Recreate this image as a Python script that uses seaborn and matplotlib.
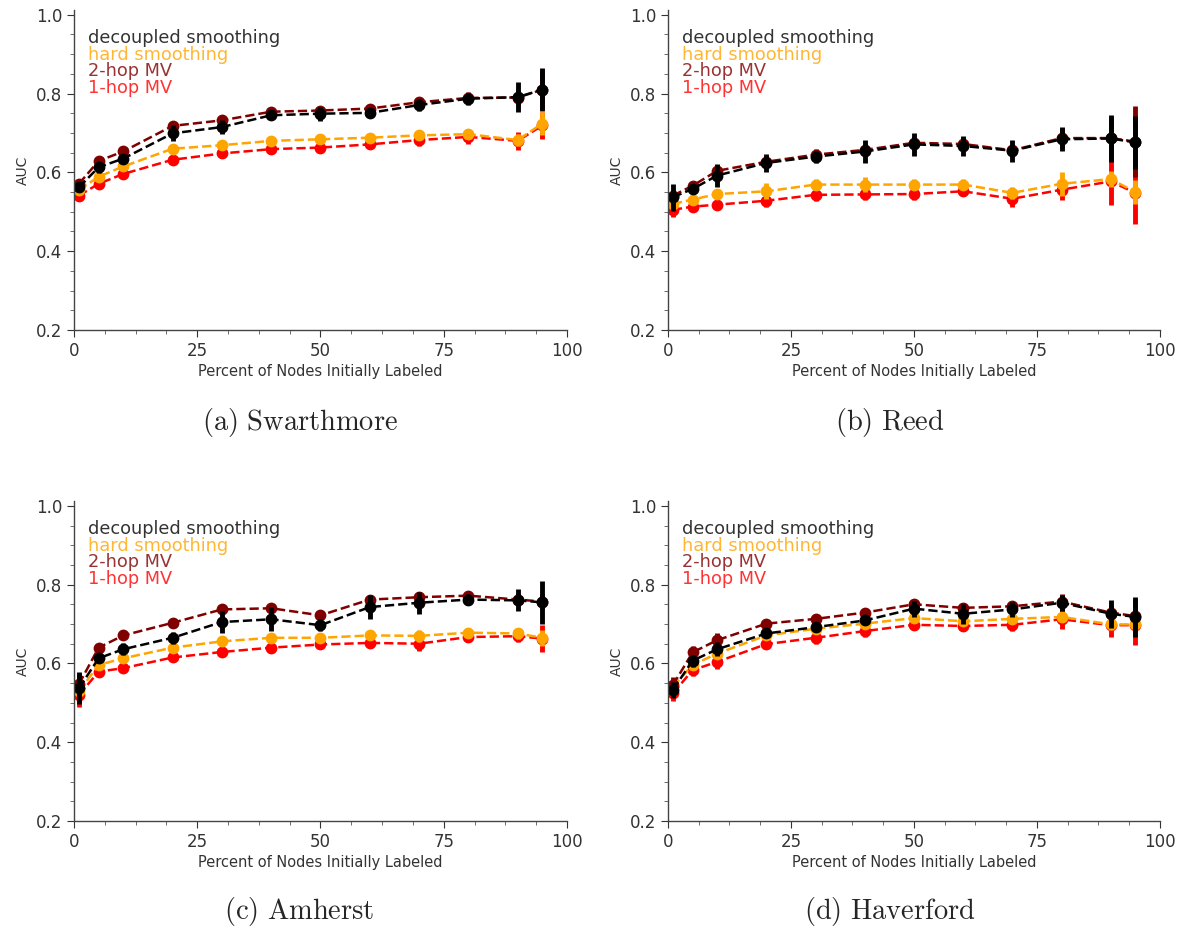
import numpy as np
import pandas as pd
import matplotlib
matplotlib.use("Agg")
import matplotlib.pyplot as plt
import seaborn as sns
from matplotlib.ticker import AutoMinorLocator

# percent of nodes initially labeled
pct = [1, 5, 10, 20, 30, 40, 50, 60, 70, 80, 90, 95]

methods = ["decoupled smoothing", "hard smoothing", "2-hop MV", "1-hop MV"]
colors = {"decoupled smoothing": "black", "hard smoothing": "orange",
          "2-hop MV": "maroon", "1-hop MV": "red"}

# Swarthmore
swa_dec = [0.562, 0.613, 0.635, 0.699, 0.715, 0.745, 0.749, 0.751, 0.771, 0.787, 0.791, 0.810]
swa_hard = [0.555, 0.589, 0.615, 0.660, 0.669, 0.680, 0.684, 0.688, 0.694, 0.697, 0.682, 0.724]
swa_2hop = [0.571, 0.629, 0.653, 0.718, 0.732, 0.754, 0.757, 0.762, 0.778, 0.789, 0.790, 0.810]
swa_1hop = [0.541, 0.571, 0.596, 0.632, 0.648, 0.659, 0.663, 0.671, 0.682, 0.690, 0.680, 0.719]
swa_dec_err = [0.012, 0.015, 0.012, 0.020, 0.018, 0.010, 0.018, 0.010, 0.015, 0.015, 0.038, 0.055]
swa_hard_err = [0.010, 0.012, 0.010, 0.010, 0.008, 0.008, 0.008, 0.010, 0.012, 0.012, 0.015, 0.030]
swa_2hop_err = [0.012, 0.012, 0.010, 0.010, 0.010, 0.008, 0.010, 0.010, 0.012, 0.015, 0.020, 0.050]
swa_1hop_err = [0.012, 0.012, 0.010, 0.010, 0.010, 0.008, 0.008, 0.010, 0.015, 0.018, 0.022, 0.034]

# Reed
ree_dec = [0.537, 0.558, 0.592, 0.624, 0.640, 0.653, 0.671, 0.667, 0.655, 0.684, 0.686, 0.676]
ree_hard = [0.520, 0.531, 0.545, 0.552, 0.569, 0.569, 0.569, 0.569, 0.548, 0.571, 0.583, 0.550]
ree_2hop = [0.541, 0.566, 0.604, 0.627, 0.645, 0.657, 0.675, 0.672, 0.656, 0.687, 0.687, 0.678]
ree_1hop = [0.505, 0.513, 0.518, 0.528, 0.543, 0.544, 0.545, 0.552, 0.533, 0.556, 0.577, 0.548]
ree_dec_err = [0.034, 0.012, 0.028, 0.022, 0.015, 0.030, 0.030, 0.025, 0.028, 0.030, 0.060, 0.068]
ree_hard_err = [0.012, 0.010, 0.010, 0.020, 0.015, 0.020, 0.015, 0.015, 0.015, 0.030, 0.020, 0.030]
ree_2hop_err = [0.015, 0.012, 0.012, 0.015, 0.015, 0.015, 0.015, 0.015, 0.015, 0.025, 0.050, 0.090]
ree_1hop_err = [0.018, 0.012, 0.010, 0.015, 0.015, 0.015, 0.015, 0.012, 0.020, 0.025, 0.060, 0.078]

# Amherst
amh_dec = [0.537, 0.613, 0.636, 0.665, 0.705, 0.712, 0.697, 0.743, 0.754, 0.762, 0.760, 0.755]
amh_hard = [0.529, 0.596, 0.613, 0.640, 0.656, 0.665, 0.665, 0.671, 0.670, 0.678, 0.676, 0.665]
amh_2hop = [0.547, 0.640, 0.671, 0.703, 0.737, 0.740, 0.722, 0.762, 0.768, 0.772, 0.762, 0.757]
amh_1hop = [0.520, 0.579, 0.588, 0.615, 0.629, 0.640, 0.648, 0.652, 0.650, 0.667, 0.669, 0.663]
amh_dec_err = [0.040, 0.012, 0.015, 0.015, 0.028, 0.030, 0.015, 0.030, 0.028, 0.015, 0.028, 0.055]
amh_hard_err = [0.020, 0.010, 0.010, 0.010, 0.010, 0.010, 0.010, 0.012, 0.015, 0.012, 0.015, 0.020]
amh_2hop_err = [0.025, 0.010, 0.010, 0.010, 0.010, 0.010, 0.010, 0.012, 0.012, 0.012, 0.015, 0.020]
amh_1hop_err = [0.030, 0.010, 0.010, 0.010, 0.010, 0.012, 0.010, 0.012, 0.018, 0.012, 0.015, 0.035]

# Haverford
hav_dec = [0.533, 0.607, 0.636, 0.676, 0.692, 0.709, 0.739, 0.726, 0.737, 0.754, 0.726, 0.718]
hav_hard = [0.541, 0.596, 0.625, 0.671, 0.688, 0.701, 0.715, 0.707, 0.713, 0.718, 0.699, 0.699]
hav_2hop = [0.545, 0.628, 0.659, 0.701, 0.713, 0.729, 0.750, 0.741, 0.745, 0.757, 0.729, 0.720]
hav_1hop = [0.524, 0.583, 0.604, 0.649, 0.665, 0.682, 0.698, 0.695, 0.698, 0.712, 0.697, 0.697]
hav_dec_err = [0.020, 0.015, 0.018, 0.012, 0.012, 0.012, 0.020, 0.025, 0.020, 0.020, 0.035, 0.050]
hav_hard_err = [0.020, 0.012, 0.012, 0.010, 0.010, 0.010, 0.010, 0.010, 0.010, 0.012, 0.015, 0.030]
hav_2hop_err = [0.020, 0.015, 0.018, 0.010, 0.012, 0.010, 0.012, 0.012, 0.012, 0.018, 0.020, 0.040]
hav_1hop_err = [0.020, 0.015, 0.018, 0.012, 0.015, 0.015, 0.012, 0.012, 0.015, 0.025, 0.030, 0.050]

captions = ["(a) Swarthmore", "(b) Reed", "(c) Amherst", "(d) Haverford"]

panels = [
    {"decoupled smoothing": (swa_dec, swa_dec_err), "hard smoothing": (swa_hard, swa_hard_err),
     "2-hop MV": (swa_2hop, swa_2hop_err), "1-hop MV": (swa_1hop, swa_1hop_err)},
    {"decoupled smoothing": (ree_dec, ree_dec_err), "hard smoothing": (ree_hard, ree_hard_err),
     "2-hop MV": (ree_2hop, ree_2hop_err), "1-hop MV": (ree_1hop, ree_1hop_err)},
    {"decoupled smoothing": (amh_dec, amh_dec_err), "hard smoothing": (amh_hard, amh_hard_err),
     "2-hop MV": (amh_2hop, amh_2hop_err), "1-hop MV": (amh_1hop, amh_1hop_err)},
    {"decoupled smoothing": (hav_dec, hav_dec_err), "hard smoothing": (hav_hard, hav_hard_err),
     "2-hop MV": (hav_2hop, hav_2hop_err), "1-hop MV": (hav_1hop, hav_1hop_err)},
]

sns.set_style("ticks")
plt.rcParams["font.family"] = ["DejaVu Sans"]
plt.rcParams["mathtext.fontset"] = "cm"

fig = plt.figure(figsize=(11.8, 9.3), dpi=100)

# axes boxes in figure fractions: left, bottom, width, height
boxes = [
    [0.0627, 0.6452, 0.4178, 0.3440],
    [0.5661, 0.6452, 0.4169, 0.3440],
    [0.0627, 0.1172, 0.4178, 0.3440],
    [0.5661, 0.1172, 0.4169, 0.3440],
]
cap_pos = [(0.254, 0.546), (0.754, 0.546), (0.254, 0.0194), (0.754, 0.0194)]

draw_order = ["1-hop MV", "hard smoothing", "2-hop MV", "decoupled smoothing"]

for box, data, cap, cp in zip(boxes, panels, captions, cap_pos):
    ax = fig.add_axes(box)
    for m in draw_order:
        vals, errs = data[m]
        df = pd.DataFrame({"pct": pct, "auc": vals})
        ax.errorbar(pct, vals, yerr=errs, fmt="none", ecolor=colors[m], elinewidth=3.5, capsize=0)
        sns.lineplot(data=df, x="pct", y="auc", ax=ax, color=colors[m], linestyle="--",
                     linewidth=1.8, marker="o", markersize=8.5, markeredgewidth=0,
                     label=m, legend=False)
    ax.set_xlim(0, 100)
    ax.set_ylim(0.2, 1.012)
    ax.set_xticks([0, 25, 50, 75, 100])
    ax.set_yticks([0.2, 0.4, 0.6, 0.8, 1.0])
    ax.xaxis.set_minor_locator(AutoMinorLocator(4))
    ax.yaxis.set_minor_locator(AutoMinorLocator(4))
    ax.tick_params(axis="both", which="major", labelsize=12, length=5, colors="#333333")
    ax.tick_params(axis="both", which="minor", length=3, colors="#555555")
    ax.set_xlabel("Percent of Nodes Initially Labeled", fontsize=10.5, color="#333333", labelpad=3)
    ax.set_ylabel("AUC", fontsize=10, color="#333333", labelpad=4)
    sns.despine(ax=ax)
    for s in ["left", "bottom"]:
        ax.spines[s].set_color("#444444")
        ax.spines[s].set_linewidth(1.0)

    # coloured method names in the upper-left corner
    for i, m in enumerate(methods):
        ax.text(0.028, 0.9125 - i * 0.0516, m, transform=ax.transAxes, ha="left", va="center",
                fontsize=12.8, color=colors[m], alpha=0.8)

    fig.text(cp[0], cp[1], "$\\mathrm{" + cap.replace(" ", "\\ ") + "}$",
             ha="center", va="center", fontsize=20.5)

fig.savefig("out.png", dpi=100)
